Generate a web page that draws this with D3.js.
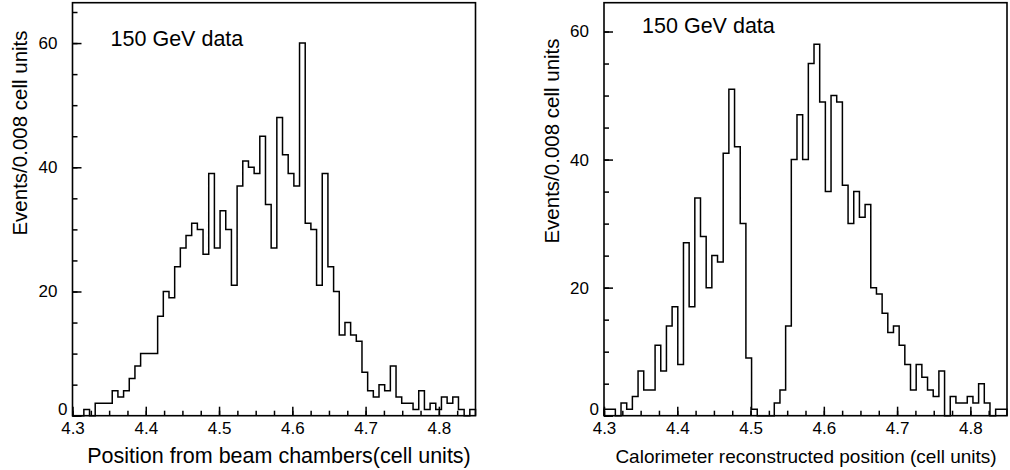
<!DOCTYPE html>
<html>
<head>
<meta charset="utf-8">
<script src="https://cdn.jsdelivr.net/npm/d3@7"></script>
<style>
  body { margin: 0; background: #fff; }
  text { font-family: "Liberation Sans", Arial, sans-serif; fill: #000; }
</style>
</head>
<body>
<svg id="chart" width="1010" height="470"></svg>
<script>
// histogram range and labels
const xMin = 4.3, xMax = 4.85;
const xTicks = [4.3, 4.4, 4.5, 4.6, 4.7, 4.8];
const yTicks = [0, 20, 40, 60];
const yLabel = "Events/0.008 cell units";
const panelTitle = "150 GeV data";
const beamXLabel = "Position from beam chambers(cell units)";
const caloXLabel = "Calorimeter reconstructed position (cell units)";

// counts per bin
const beamCounts = [0, 0, 1, 0, 2, 2, 2, 4, 3, 4, 6, 8, 10, 10, 10, 16, 20, 19, 24, 27,
  29, 31, 30, 26, 39, 27, 33, 30, 21, 37, 41, 40, 39, 45, 34, 27, 48, 42, 39, 37,
  60, 31, 30, 21, 39, 24, 20, 13, 15, 13, 12, 7, 4, 3, 5, 4, 8, 3, 2, 2,
  1, 4, 1, 2, 1, 3, 2, 3, 1, 0, 1];
const caloCounts = [1, 1, 0, 2, 1, 3, 7, 4, 4, 11, 7, 14, 17, 8, 27, 17, 34, 28, 20, 25,
  24, 41, 51, 42, 30, 9, 1, 0, 0, 0, 2, 4, 14, 40, 47, 40, 55, 58, 49, 35,
  50, 49, 36, 30, 35, 31, 33, 20, 19, 16, 13, 14, 11, 8, 4, 8, 6, 4, 3, 7,
  0, 3, 2, 2, 3, 2, 5, 2, 0, 1, 1];

const svg = d3.select("#chart");

const panels = [
  { counts: beamCounts, yMax: 66.5, x0: 72.5, xLabel: beamXLabel, xLabelSize: 21.5, xLabelX: 279, yLabelX: 20, titleY: 46, yLabelY: 133 },
  { counts: caloCounts, yMax: 64.5, x0: 604, xLabel: caloXLabel, xLabelSize: 19, xLabelX: 806, yLabelX: 552, titleY: 33, yLabelY: 141 }
];

const plotW = 403, yTop = 2.7, yBottom = 415.7;

panels.forEach(function(p) {
  const x = d3.scaleLinear().domain([xMin, xMax]).range([p.x0, p.x0 + plotW]);
  const y = d3.scaleLinear().domain([0, p.yMax]).range([yBottom, yTop]);
  const g = svg.append("g");
  const bw = (xMax - xMin) / p.counts.length;

  // step outline
  const pts = [[xMin, 0]];
  p.counts.forEach(function(c, i) {
    pts.push([xMin + i * bw, c]);
    pts.push([xMin + (i + 1) * bw, c]);
  });
  pts.push([xMax, 0]);
  const line = d3.line().x(d => x(d[0])).y(d => y(d[1]));
  g.append("path")
    .attr("d", line(pts))
    .attr("fill", "none")
    .attr("stroke", "#000")
    .attr("stroke-width", 1.5);

  // minor ticks
  const xMinor = d3.range(0, 22).map(i => xMin + i * 0.025);
  g.append("g").attr("transform", "translate(0," + yBottom + ")")
    .call(d3.axisBottom(x).tickValues(xMinor).tickSize(-5).tickFormat(""))
    .call(s => s.select(".domain").remove());
  const yMinor = d3.range(0, p.yMax, 5);
  g.append("g").attr("transform", "translate(" + p.x0 + ",0)")
    .call(d3.axisLeft(y).tickValues(yMinor).tickSize(-5).tickFormat(""))
    .call(s => s.select(".domain").remove());

  // major ticks + labels
  const xa = g.append("g").attr("transform", "translate(0," + yBottom + ")")
    .call(d3.axisBottom(x).tickValues(xTicks).tickSize(-9).tickPadding(6).tickFormat(d3.format(".1f")));
  xa.select(".domain").remove();
  xa.selectAll("text").attr("font-size", 17).attr("font-family", "Liberation Sans, Arial, sans-serif");

  const ya = g.append("g").attr("transform", "translate(" + p.x0 + ",0)")
    .call(d3.axisLeft(y).tickValues(yTicks).tickSize(-9).tickPadding(15));
  ya.select(".domain").remove();
  ya.selectAll("text").attr("font-size", 17).attr("font-family", "Liberation Sans, Arial, sans-serif");
  ya.selectAll(".tick").filter(d => d === 0).select("text")
    .attr("x", -5).attr("dy", "-0.1em");
  g.selectAll(".tick line").attr("stroke", "#000").attr("stroke-width", 1.5);

  // frame
  g.append("rect")
    .attr("x", p.x0).attr("y", yTop)
    .attr("width", plotW).attr("height", yBottom - yTop)
    .attr("fill", "none").attr("stroke", "#000").attr("stroke-width", 1.6);

  // texts
  g.append("text")
    .attr("x", x(4.352)).attr("y", p.titleY)
    .attr("font-size", 21.5)
    .text(panelTitle);

  g.append("text")
    .attr("x", p.xLabelX).attr("y", 463)
    .attr("text-anchor", "middle")
    .attr("font-size", p.xLabelSize)
    .text(p.xLabel);

  g.append("text")
    .attr("transform", "translate(" + p.yLabelX + "," + p.yLabelY + ") rotate(-90)")
    .attr("text-anchor", "middle")
    .attr("dy", "0.35em")
    .attr("font-size", 20.5)
    .text(yLabel);
});
</script>
</body>
</html>
